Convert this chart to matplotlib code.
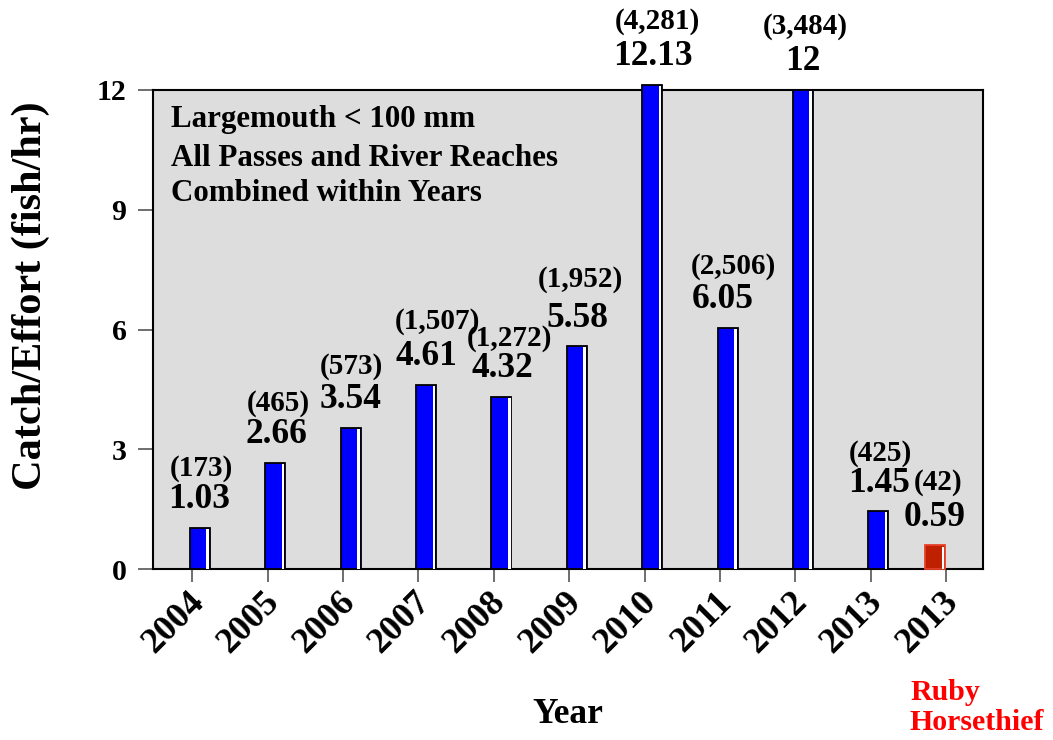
import matplotlib
matplotlib.use("Agg")
import matplotlib.pyplot as plt
import matplotlib.transforms as mtransforms
import numpy as np

plt.rcParams['font.family'] = ['Liberation Serif', 'DejaVu Serif']
plt.rcParams['font.weight'] = 'bold'

# catch per unit effort by year, largemouth bass < 100 mm
years = ['2004', '2005', '2006', '2007', '2008', '2009', '2010', '2011', '2012', '2013', '2013']
cpue = [1.03, 2.66, 3.54, 4.61, 4.32, 5.58, 12.13, 6.05, 12, 1.45, 0.59]
counts = ['(173)', '(465)', '(573)', '(1,507)', '(1,272)', '(1,952)',
          '(4,281)', '(2,506)', '(3,484)', '(425)', '(42)']
value_text = ['1.03', '2.66', '3.54', '4.61', '4.32', '5.58', '12.13', '6.05', '12', '1.45', '0.59']
# last bar is the Ruby Horsethief sample
is_ruby = [False] * 10 + [True]

# small nudges (pixels) so the labels sit where they were hand placed
value_dx = [-1, 1, 0, 0, 1, 1, 1, -5, 0, 1, -1]
count_dx = [2, 2, 1, 11, 7, 3, 4, 11, 2, 1, 4]
count_dy = [31, 31, 33, 35, 30, 39, 35, 33, 36, 30, 35]

fig = plt.figure(figsize=(10.53, 7.40), dpi=100)
ax = fig.add_axes([153 / 1053, 1 - 569 / 740, 830 / 1053, 479 / 740])
ax.set_facecolor('#DDDDDD')

x = np.arange(len(years))
bw = 0.265
strip = 0.035
px2pt = 0.72

for i, (v, ruby) in enumerate(zip(cpue, is_ruby)):
    if ruby:
        left = x[i] - 0.275
        fc, ec = '#BE2000', '#E8402A'
    else:
        left = x[i] - 0.03
        fc, ec = '#0000FF', 'black'
    ax.bar(left, v, width=bw, align='edge', color=fc, edgecolor=ec,
           linewidth=1.3, clip_on=False, zorder=3)
    # white highlight down the right side of each bar
    ax.bar(left + bw - strip - 0.012, v - 0.03, width=strip, align='edge',
           color='white', linewidth=0, clip_on=False, zorder=4)
    cx = left + bw / 2
    ax.annotate(value_text[i], xy=(cx, v), xytext=(value_dx[i] * px2pt, 28 * px2pt),
                textcoords='offset points', ha='center', va='center',
                fontsize=25.5, fontweight='bold', annotation_clip=False)
    ax.annotate(counts[i], xy=(cx, v),
                xytext=((value_dx[i] + count_dx[i]) * px2pt, (28 + count_dy[i]) * px2pt),
                textcoords='offset points', ha='center', va='center',
                fontsize=21, fontweight='bold', annotation_clip=False)

ax.set_xlim(-0.52, 10.49)
ax.set_ylim(0, 12)
ax.set_yticks([0, 3, 6, 9, 12])
ax.set_xticks(x)
ax.set_xticklabels(years, rotation=45, ha='right', va='center', rotation_mode='anchor')

ax.tick_params(axis='y', direction='out', length=11, width=1.2, color='#555555',
               labelsize=21.5, pad=8)
ax.tick_params(axis='x', direction='out', length=9.5, width=1.2, color='#555555',
               labelsize=26, pad=11)
shift = mtransforms.ScaledTranslation(0.07, 0, fig.dpi_scale_trans)
for lab in ax.get_xticklabels():
    lab.set_fontweight('bold')
    lab.set_transform(lab.get_transform() + shift)
for lab in ax.get_yticklabels():
    lab.set_fontweight('bold')

for sp in ax.spines.values():
    sp.set_linewidth(1.5)
    sp.set_color('black')

ax.set_ylabel('Catch/Effort (fish/hr)', fontsize=30.5, fontweight='bold', va='center')
ax.yaxis.set_label_coords(-0.147, 0.57)
ax.set_xlabel('Year', fontsize=25.5, fontweight='bold', va='center')
ax.xaxis.set_label_coords(0.5, -0.303)

info = ['Largemouth < 100 mm', 'All Passes and River Reaches', 'Combined within Years']
for line, yy in zip(info, [0.923, 0.841, 0.768]):
    ax.text(0.0217, yy, line, transform=ax.transAxes, fontsize=22.3,
            fontweight='bold', va='baseline', ha='left', zorder=5)

fig.text(910 / 1053, 1 - 692 / 740, 'Ruby', color='#FF0000', fontsize=21.5,
         fontweight='bold', va='center', ha='left')
fig.text(910 / 1053, 1 - 722 / 740, 'Horsethief', color='#FF0000', fontsize=21.5,
         fontweight='bold', va='center', ha='left')

fig.savefig('out.png', dpi=100)
